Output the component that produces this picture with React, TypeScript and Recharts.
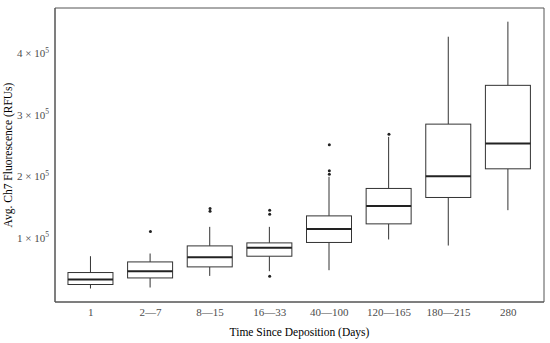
import { Bar, ComposedChart, ReferenceArea, Scatter, XAxis, YAxis } from "recharts";

const categories = ["1", "2\u20147", "8\u201415", "16\u201433", "40\u2014100", "120\u2014165", "180\u2014215", "280"];
const mins = [17000, 18600, 37500, 45200, 46800, 96900, 87000, 144600];
const q1s = [23500, 34200, 52200, 69600, 92000, 122300, 165300, 212000];
const medians = [31600, 45200, 68000, 83200, 114100, 151600, 200000, 253400];
const q3s = [43000, 60300, 86400, 91300, 135300, 180000, 284800, 348000];
const maxs = [69600, 74000, 117400, 117400, 199000, 264000, 427200, 451700];
const outlierGroup = [2, 3, 3, 4, 4, 4, 5, 5, 5, 6];
const outlierValue = [109900, 147400, 143000, 144600, 138100, 37000, 251000, 208700, 203300, 268500];
const yTicks = [100000, 200000, 300000, 400000];
const yTickLabels = ["1", "2", "3", "4"];

const boxes = categories.map((c, i) => ({
  idx: i + 1,
  label: c,
  min: mins[i],
  q1: q1s[i],
  median: medians[i],
  q3: q3s[i],
  max: maxs[i],
}));
const outliers = outlierGroup.map((g, i) => ({ idx: g, value: outlierValue[i] }));

const FONT = "'Liberation Serif', 'DejaVu Serif', serif";

function BoxShape(props: any) {
  const { x, y, width, height, payload } = props;
  const top = Math.min(y, y + height);
  const bottom = Math.max(y, y + height);
  const span = payload.max - payload.min;
  const px = (v: number) => bottom - ((bottom - top) * (v - payload.min)) / span;
  const cx = x + width / 2;
  return (
    <g>
      <line x1={cx} x2={cx} y1={px(payload.max)} y2={px(payload.q3)} stroke="#333" strokeWidth={1} />
      <line x1={cx} x2={cx} y1={px(payload.q1)} y2={px(payload.min)} stroke="#333" strokeWidth={1} />
      <rect
        x={x}
        y={px(payload.q3)}
        width={width}
        height={px(payload.q1) - px(payload.q3)}
        fill="#fff"
        stroke="#333"
        strokeWidth={1}
      />
      <line x1={x} x2={x + width} y1={px(payload.median)} y2={px(payload.median)} stroke="#222" strokeWidth={2} />
    </g>
  );
}

function YTick(props: any) {
  const { x, y, payload } = props;
  const i = yTicks.indexOf(payload.value);
  return (
    <text x={x - 1} y={y} dy={4} textAnchor="end" fill="#4d4d4d" style={{ fontSize: 11, fontFamily: FONT }}>
      {yTickLabels[i]} × 10
      <tspan dy={-4.5} style={{ fontSize: 7.5 }}>5</tspan>
    </text>
  );
}

export default function App() {
  return (
    <div style={{ position: "absolute", left: 0, top: 0, width: 550, height: 343, background: "#fff" }}>
      <ComposedChart width={550} height={343} data={boxes} margin={{ top: 8, right: 6, left: 0, bottom: 0 }}>
        <XAxis
          dataKey="idx"
          type="number"
          domain={[0.4, 8.6]}
          ticks={[1, 2, 3, 4, 5, 6, 7, 8]}
          tickFormatter={(v: number) => categories[v - 1]}
          allowDataOverflow
          height={41}
          tickLine={false}
          tickSize={4}
          tickMargin={2}
          axisLine={{ stroke: "#555" }}
          tick={{ fill: "#4d4d4d", fontSize: 11, fontFamily: FONT }}
          label={{
            content: ({ viewBox }: any) => (
              <text
                x={viewBox.x + viewBox.width / 2}
                y={336}
                textAnchor="middle"
                style={{ fontSize: 11.5, fontFamily: FONT }}
                fill="#000"
              >
                Time Since Deposition (Days)
              </text>
            ),
          }}
        />
        <YAxis
          type="number"
          domain={[-5000, 474000]}
          ticks={yTicks}
          allowDataOverflow
          width={55}
          tickLine={false}
          tickSize={3}
          tickMargin={2}
          axisLine={{ stroke: "#555" }}
          tick={<YTick />}
          label={{
            content: ({ viewBox }: any) => (
              <text
                transform={`translate(12, ${viewBox.y + viewBox.height / 2}) rotate(-90)`}
                textAnchor="middle"
                style={{ fontSize: 11.5, fontFamily: FONT }}
                fill="#000"
              >
                Avg. Ch7 Fluorescence (RFUs)
              </text>
            ),
          }}
        />
        <ReferenceArea x1={0.4} x2={8.6} y1={-5000} y2={474000} fill="none" stroke="#555" strokeWidth={1} />
        <Bar
          dataKey={(d: any) => [d.min, d.max]}
          barSize={45}
          shape={<BoxShape />}
          isAnimationActive={false}
        />
        <Scatter
          data={outliers}
          dataKey="value"
          isAnimationActive={false}
          shape={(p: any) => <circle cx={p.cx} cy={p.cy} r={1.5} fill="#222" />}
        />
      </ComposedChart>
    </div>
  );
}
